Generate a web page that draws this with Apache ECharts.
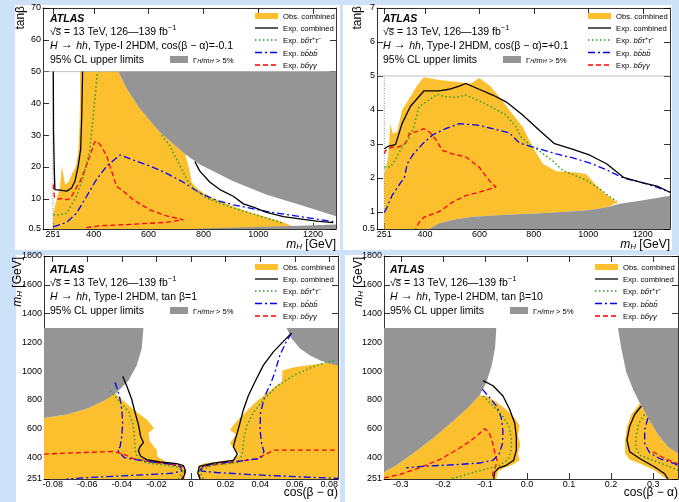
<!DOCTYPE html>
<html><head><meta charset="utf-8">
<script src="https://cdn.jsdelivr.net/npm/echarts@6/dist/echarts.min.js"></script>
<style>
html,body{margin:0;padding:0;width:679px;height:502px;overflow:hidden;background:#cde1f8;}
.p{position:absolute;background:#fff;}
#c{position:absolute;left:0;top:0;width:679px;height:502px;}
</style></head><body>
<div class="p" style="left:15px;top:5px;width:325px;height:245px"></div>
<div class="p" style="left:343px;top:5px;width:329px;height:245px"></div>
<div class="p" style="left:16px;top:255px;width:324px;height:247px"></div>
<div class="p" style="left:345px;top:255px;width:334px;height:247px"></div>
<div id="c"></div>
<script>
const FONT = '"Liberation Sans", Arial, Helvetica, sans-serif';

// ---------- tick labels ----------
const tlXTicks = [251, 400, 600, 800, 1000, 1200];
const tlYTicks = [0.5, 10, 20, 30, 40, 50, 60, 70];
const trXTicks = [251, 400, 600, 800, 1000, 1200];
const trYTicks = [0.5, 1, 2, 3, 4, 5, 6, 7];
const blXTicks = [-0.08, -0.06, -0.04, -0.02, 0, 0.02, 0.04, 0.06, 0.08];
const brXTicks = [-0.3, -0.2, -0.1, 0, 0.1, 0.2, 0.3];
const bYTicks = [251, 400, 600, 800, 1000, 1200, 1400, 1600, 1800];

// ---------- top-left: cos(b-a) = -0.1  (x: m_H [GeV], y: tan b) ----------
const tlObs = [[252,0.5],[252,5.5],[264,9.7],[277,13.9],[283,20.3],[295,14.5],[307,15.2],[319,17.6],[335,20.3],[343,24.5],[347,30.9],[350,41.5],[350,50],[489,50],[520,44.6],[568,38.3],[641,30.9],[733,24],[739,22.4],[751,18.2],[757,15.2],[775,13.4],[800,11.8],[848,9.7],[909,7.6],[970,5.7],[1031,4.2],[1092,2.6],[1128,1.2],[1152,0.5]];
const tlGrey = [[489,50],[520,44.6],[568,38.3],[641,30.9],[733,24],[787,20.8],[909,15.5],[1031,11.3],[1152,8.1],[1284,4.5],[1284,50]];
const tlGreyLow = [[760,0.5],[1284,0.5],[1284,1.9],[1150,1.5],[1000,1.1],[850,0.8]];
const tlExpA = [[252,50],[253,30.9],[256,18.2],[258,12.9],[277,12.7],[301,12.4],[319,13.4],[331,15.5],[343,20.3],[352,25.6],[356,36.2],[359,50]];
const tlExpB = [[769,21.7],[787,18.7],[824,15.2],[860,12.9],[909,10.8],[946,8.4],[982,7.4],[1031,5.7],[1092,4.4],[1152,3.7],[1213,3.0],[1274,2.5]];
const tlTauA = [[252,4.9],[270,4.9],[301,5.5],[337,10.8],[362,17.1],[386,25.6],[404,41.5],[413,50]];
const tlTauB = [[648,30],[678,26.6],[715,20.3],[739,16.1],[763,13.4],[812,10.2],[909,7.1],[1031,3.9],[1092,2.3]];
const tl4b = [[252,1.2],[301,2.6],[337,5.5],[374,10.8],[410,16.1],[447,20.3],[496,23.8],[544,22.2],[605,20.3],[666,18],[727,15.2],[787,11.8],[848,9.5],[909,8.1],[1031,6],[1152,4.4],[1274,2.8]];
const tlYY = [[252,14.5],[256,10.6],[270,9.9],[289,10.2],[301,9.7],[315,10.2],[331,12.7],[350,15.5],[368,19.2],[386,23.5],[402,27.7],[410,28.2],[425,26.8],[447,23.5],[469,17.6],[483,13.9],[508,12.4],[544,9.7],[605,6.5],[666,4.6],[727,3.4],[666,2.6],[544,2.0],[423,1.5],[362,0.8]];

// ---------- top-right: cos(b-a) = +0.1 ----------
const trObs = [[251,0.5],[251,2.12],[265,2.62],[273,3.6],[282,3.31],[298,3.35],[316,4.0],[347,4.39],[372,4.73],[396,4.96],[452,4.88],[513,4.83],[569,4.78],[599,4.94],[636,4.73],[673,4.39],[710,4.0],[759,3.5],[796,2.91],[833,2.42],[882,2.2],[944,2.17],[993,2.12],[1018,1.88],[1055,1.58],[1092,1.36],[1110,1.29],[1067,1.14],[1006,1.06],[944,1.02],[821,0.96],[698,0.92],[575,0.86],[513,0.79],[452,0.67],[415,0.5]];
const trGrey = [[415,0.5],[452,0.67],[513,0.79],[575,0.86],[698,0.92],[821,0.96],[944,1.02],[1006,1.06],[1067,1.14],[1116,1.24],[1190,1.33],[1300,1.48],[1300,0.5]];
const trExp = [[251,2.86],[267,2.94],[292,2.98],[316,3.6],[347,4.11],[396,4.56],[452,4.56],[489,4.61],[526,4.7],[550,4.78],[599,4.61],[649,4.44],[698,4.24],[759,3.85],[821,3.4],[876,3.01],[944,2.84],[1006,2.67],[1067,2.42],[1129,2.02],[1190,1.88],[1252,1.76],[1300,1.58]];
const trTau = [[251,2.32],[273,2.32],[292,2.54],[316,2.91],[341,3.16],[359,3.5],[378,4.09],[405,4.24],[446,4.46],[476,4.39],[513,4.37],[550,4.44],[599,4.27],[649,4.07],[698,3.85],[735,3.5],[753,3.21],[784,2.99],[821,2.79],[870,2.5],[907,2.22],[944,2.1],[993,1.93],[1042,1.68],[1079,1.45],[1104,1.32]];
const tr4b = [[251,0.99],[261,1.14],[279,1.48],[304,1.78],[325,2.02],[335,2.42],[356,2.69],[390,2.99],[427,3.26],[476,3.45],[526,3.6],[599,3.55],[673,3.4],[710,3.33],[747,3.03],[796,2.91],[882,2.71],[944,2.59],[1006,2.44],[1067,2.24],[1129,2.0],[1190,1.88],[1252,1.73],[1300,1.58]];
const trYY = [[251,2.71],[255,2.81],[279,2.91],[304,2.91],[329,3.03],[343,3.31],[372,3.37],[396,3.45],[417,3.35],[442,3.11],[464,2.81],[501,2.71],[550,2.62],[599,2.32],[636,1.93],[661,1.73],[599,1.58],[550,1.48],[501,1.29],[476,1.14],[452,1.01],[427,0.94],[396,0.84],[378,0.69],[366,0.5]];

// ---------- bottom-left: tan b = 1 (x: cos(b-a), y: m_H [GeV]) ----------
const blGreyL = [[-0.085,1300],[-0.0275,1300],[-0.0285,1158],[-0.0314,1040],[-0.0362,934],[-0.0429,852],[-0.0506,793],[-0.0603,739],[-0.0718,699],[-0.085,675]];
const blGreyR = [[0.0553,1300],[0.0581,1228],[0.063,1158],[0.0687,1111],[0.0745,1075],[0.0803,1052],[0.085,1040],[0.085,1300]];
const blObsL = [[-0.085,251],[-0.085,675],[-0.0718,699],[-0.0603,739],[-0.0506,793],[-0.0458,864],[-0.041,816],[-0.0333,734],[-0.0256,664],[-0.0214,605],[-0.0246,569],[-0.0237,511],[-0.0198,452],[-0.0194,405],[-0.0141,369],[-0.0083,353],[-0.0044,334],[-0.0035,299],[-0.004,251]];
const blObsR = [[0.085,1064],[0.0745,1052],[0.0668,1040],[0.0591,1026],[0.0529,1005],[0.0526,922],[0.0504,911],[0.0437,847],[0.037,781],[0.0312,711],[0.0264,652],[0.0225,593],[0.026,558],[0.0225,499],[0.0254,452],[0.0283,424],[0.0245,386],[0.0148,369],[0.0071,358],[0.0042,334],[0.0042,299],[0.0052,251],[0.085,251]];
const blExpL = [[-0.0395,965],[-0.0372,899],[-0.0343,805],[-0.0323,711],[-0.0304,628],[-0.0291,546],[-0.0275,504],[-0.0295,475],[-0.0304,445],[-0.0291,409],[-0.0256,386],[-0.0179,369],[-0.0083,358],[-0.0044,344],[-0.0033,311],[-0.0039,275],[-0.0054,251]];
const blExpR = [[0.0052,251],[0.0039,292],[0.0048,339],[0.0129,362],[0.0245,381],[0.0268,424],[0.0245,475],[0.0254,518],[0.0268,574],[0.0283,640],[0.0302,729],[0.0331,828],[0.037,927],[0.0418,1040],[0.0476,1134],[0.0533,1205],[0.0581,1264]];
const blTauL = [[-0.0468,864],[-0.041,786],[-0.0362,722],[-0.0337,640],[-0.0327,546],[-0.0323,452],[-0.031,393],[-0.0256,362],[-0.0141,346],[-0.0064,329],[-0.0048,299],[-0.0073,251]];
const blTauR = [[0.0071,251],[0.0048,311],[0.0129,346],[0.0283,369],[0.0298,440],[0.0306,534],[0.0325,628],[0.036,711],[0.0418,800],[0.0495,894],[0.0591,969],[0.0687,1021],[0.0784,1064],[0.0841,1075]];
const bl4bL = [[-0.0439,922],[-0.0414,828],[-0.04,734],[-0.0395,640],[-0.04,551],[-0.041,475],[-0.0425,452],[-0.0387,400],[-0.0275,376],[-0.0141,358],[-0.0064,339],[-0.0054,306],[-0.0102,292],[-0.0237,282],[-0.0429,271],[-0.0622,259],[-0.0718,251]];
const bl4bR = [[0.0581,1264],[0.0549,1200],[0.0514,1111],[0.0485,993],[0.046,911],[0.0427,828],[0.0402,711],[0.0399,593],[0.0408,499],[0.0422,440],[0.0399,393],[0.0283,376],[0.0129,358],[0.0052,329],[0.0062,306],[0.0148,296],[0.0341,282],[0.0533,271],[0.0726,261],[0.085,256]];
const blYYL = [[-0.085,424],[-0.0718,431],[-0.0449,442],[-0.0391,424],[-0.0333,393],[-0.0218,367],[-0.0102,351],[-0.0048,334],[-0.0033,299],[-0.0044,251]];
const blYYR = [[0.0052,251],[0.0042,299],[0.0071,339],[0.0245,367],[0.0379,391],[0.0437,424],[0.048,452],[0.0553,452],[0.085,452]];

// ---------- bottom-right: tan b = 10 ----------
const brGreyL = [[-0.34,1300],[-0.0729,1300],[-0.0761,1158],[-0.084,1040],[-0.0967,922],[-0.1125,833],[-0.1403,746],[-0.1759,652],[-0.2235,534],[-0.271,428],[-0.3106,346],[-0.34,299]];
const brGreyR = [[0.2163,1300],[0.2242,1158],[0.2361,993],[0.252,875],[0.2678,781],[0.2876,675],[0.3114,558],[0.3352,475],[0.359,428],[0.359,1300]];
const brObsL = [[-0.34,251],[-0.34,299],[-0.3106,346],[-0.271,428],[-0.2235,534],[-0.1759,652],[-0.1403,746],[-0.1125,833],[-0.0967,828],[-0.0729,786],[-0.0491,734],[-0.0293,675],[-0.0174,621],[-0.0214,558],[-0.0158,487],[-0.0214,428],[-0.0174,381],[-0.0333,351],[-0.0531,329],[-0.0689,306],[-0.0729,251]];
const brObsR = [[0.2678,776],[0.248,699],[0.2377,616],[0.233,522],[0.233,428],[0.2441,386],[0.2718,353],[0.3035,311],[0.3312,251],[0.359,251],[0.359,428],[0.3352,475],[0.3114,558],[0.2876,675]];
const brExpL = [[-0.1046,934],[-0.0808,899],[-0.0571,828],[-0.0412,734],[-0.0293,640],[-0.0254,546],[-0.0254,452],[-0.0317,381],[-0.0491,346],[-0.0666,329],[-0.0769,299],[-0.0792,251]];
const brExpR = [[0.2718,758],[0.2559,699],[0.244,616],[0.2377,522],[0.2441,440],[0.2678,393],[0.3035,334],[0.3273,287],[0.3352,251]];
const brTauL = [[-0.1046,828],[-0.0824,762],[-0.0586,692],[-0.0428,616],[-0.0372,534],[-0.0372,452],[-0.0452,386],[-0.065,346],[-0.0967,320],[-0.1284,296],[-0.1601,268],[-0.1838,251]];
const brTauR = [[0.2797,699],[0.2662,640],[0.2599,558],[0.2583,471],[0.2678,416],[0.2995,381],[0.3312,346],[0.359,311]];
const br4bL = [[-0.1062,875],[-0.0887,816],[-0.0713,753],[-0.061,675],[-0.0571,581],[-0.0586,494],[-0.0666,424],[-0.0808,381],[-0.1125,362],[-0.168,351],[-0.2472,339],[-0.2868,329]];
const br4bR = [[0.2876,675],[0.2797,593],[0.2797,499],[0.2916,433],[0.3154,393],[0.347,362],[0.359,346]];
const brYYL = [[-0.34,259],[-0.3027,282],[-0.2552,329],[-0.2076,386],[-0.168,452],[-0.1363,511],[-0.1165,558],[-0.1006,600],[-0.0903,574],[-0.0824,511],[-0.0769,440],[-0.0713,381],[-0.0745,339],[-0.0808,299],[-0.0824,251]];
const brYYR = [[0.2995,440],[0.3233,400],[0.347,369],[0.359,358]];

// ---------- styles ----------
const C_OBS = '#fcbf2e', C_GREY = '#959595', C_EXP = '#000000', C_TAU = '#22a022', C_4B = '#0000ff', C_YY = '#ff0000';
const DASH_TAU = [1.5, 2.5], DASH_4B = [7, 3, 2, 3], DASH_YY = [5, 3];

const series = [];
function poly(g, pts, color, z) {
  series.push({
    type: 'custom', xAxisIndex: 2*g, yAxisIndex: 2*g, clip: true, silent: true, z: z,
    data: [pts[0]], encode: {x: 0, y: 1},
    renderItem: function (params, api) {
      return {type: 'polygon', shape: {points: pts.map(function (p) { return api.coord(p); })}, style: {fill: color}};
    }
  });
}
function line(g, pts, color, dash, w, z) {
  series.push({
    type: 'line', xAxisIndex: 2*g, yAxisIndex: 2*g, data: pts, showSymbol: false, symbol: 'none',
    clip: true, silent: true, z: z,
    lineStyle: {color: color, width: w, type: dash || 'solid'}
  });
}
function fmtX(v) { return String(v); }

// panel 0: TL
poly(0, tlObs, C_OBS, 2); poly(0, tlGrey, C_GREY, 3); poly(0, tlGreyLow, C_GREY, 3);
line(0, [[251,0.5],[251,50]], '#444', [1,1.5], 0.6, 4);
line(0, [[214.5,50],[1284,50]], '#999', 'solid', 0.6, 4);
line(0, tlYY, C_YY, DASH_YY, 1.3, 5); line(0, tl4b, C_4B, DASH_4B, 1.3, 6);
line(0, tlTauA, C_TAU, DASH_TAU, 1.5, 7); line(0, tlTauB, C_TAU, DASH_TAU, 1.5, 7);
line(0, tlExpA, C_EXP, null, 1.3, 8); line(0, tlExpB, C_EXP, null, 1.3, 8);
// panel 1: TR
poly(1, trObs, C_OBS, 2); poly(1, trGrey, C_GREY, 3);
line(1, [[251,0.5],[251,5]], '#444', [1,1.5], 0.6, 4);
line(1, [[224,5],[1300,5]], '#999', 'solid', 0.6, 4);
line(1, trYY, C_YY, DASH_YY, 1.3, 5); line(1, tr4b, C_4B, DASH_4B, 1.3, 6);
line(1, trTau, C_TAU, DASH_TAU, 1.5, 7); line(1, trExp, C_EXP, null, 1.3, 8);
// panel 2: BL
poly(2, blObsL, C_OBS, 2); poly(2, blObsR, C_OBS, 2); poly(2, blGreyL, C_GREY, 3); poly(2, blGreyR, C_GREY, 3);
line(2, blYYL, C_YY, DASH_YY, 1.3, 5); line(2, blYYR, C_YY, DASH_YY, 1.3, 5);
line(2, bl4bL, C_4B, DASH_4B, 1.3, 6); line(2, bl4bR, C_4B, DASH_4B, 1.3, 6);
line(2, blTauL, C_TAU, DASH_TAU, 1.5, 7); line(2, blTauR, C_TAU, DASH_TAU, 1.5, 7);
line(2, blExpL, C_EXP, null, 1.3, 8); line(2, blExpR, C_EXP, null, 1.3, 8);
// panel 3: BR
poly(3, brObsL, C_OBS, 2); poly(3, brObsR, C_OBS, 2); poly(3, brGreyL, C_GREY, 3); poly(3, brGreyR, C_GREY, 3);
line(3, brYYL, C_YY, DASH_YY, 1.3, 5); line(3, brYYR, C_YY, DASH_YY, 1.3, 5);
line(3, br4bL, C_4B, DASH_4B, 1.3, 6); line(3, br4bR, C_4B, DASH_4B, 1.3, 6);
line(3, brTauL, C_TAU, DASH_TAU, 1.5, 7); line(3, brTauR, C_TAU, DASH_TAU, 1.5, 7);
line(3, brExpL, C_EXP, null, 1.3, 8); line(3, brExpR, C_EXP, null, 1.3, 8);

// ---------- axes ----------
const grids = [
  {left: 43, top: 8, width: 293, height: 221},
  {left: 377, top: 8, width: 293, height: 221},
  {left: 44, top: 256, width: 294, height: 223},
  {left: 384, top: 256, width: 294, height: 223}
];
const xRanges = [[214.5, 1284], [224, 1300], [-0.085, 0.085], [-0.34, 0.359]];
const yRanges = [[0.5, 70], [0.5, 7], [251, 1800], [251, 1800]];
const xTicks = [tlXTicks, trXTicks, blXTicks, brXTicks];
const yTicks = [tlYTicks, trYTicks, bYTicks, bYTicks];
const xFmts = [fmtX, fmtX, function (v) { return Math.abs(v) < 1e-9 ? '0' : v.toFixed(2); }, function (v) { return (Math.abs(v) < 1e-9 ? 0 : v).toFixed(1); }];
const xAxes = [], yAxes = [];
const lineSt = {color: '#000', width: 0.8};
for (let g = 0; g < 4; g++) {
  ['bottom', 'top'].forEach(function (pos) {
    xAxes.push({type: 'value', gridIndex: g, position: pos, min: xRanges[g][0], max: xRanges[g][1],
      axisLine: {show: true, onZero: false, lineStyle: lineSt},
      axisTick: {show: true, inside: true, length: 6, customValues: xTicks[g], lineStyle: lineSt},
      axisLabel: {show: pos === 'bottom', customValues: xTicks[g], formatter: xFmts[g], fontSize: 9, color: '#000', margin: 1, fontFamily: FONT},
      splitLine: {show: false}});
  });
  ['left', 'right'].forEach(function (pos) {
    yAxes.push({type: 'value', gridIndex: g, position: pos, min: yRanges[g][0], max: yRanges[g][1],
      axisLine: {show: true, onZero: false, lineStyle: lineSt},
      axisTick: {show: true, inside: true, length: 6, customValues: yTicks[g], lineStyle: lineSt},
      axisLabel: {show: pos === 'left', customValues: yTicks[g], formatter: function (v) { return String(v); }, fontSize: 9, color: '#000', margin: 2, fontFamily: FONT},
      splitLine: {show: false}});
  });
}

// ---------- texts & legends ----------
const RM = {
  n: {fontSize: 10.5, fontFamily: FONT, lineHeight: 14, verticalAlign: 'bottom'},
  i: {fontSize: 10.5, fontFamily: FONT, fontStyle: 'italic', lineHeight: 14, verticalAlign: 'bottom'},
  sup: {fontSize: 7.5, fontFamily: FONT, lineHeight: 8, verticalAlign: 'top'},
  a: {fontSize: 10.5, fontFamily: FONT, fontStyle: 'italic', fontWeight: 'bold', lineHeight: 14, verticalAlign: 'bottom'}
};
const RL = {
  n: {fontSize: 7.7, fontFamily: FONT, lineHeight: 10, verticalAlign: 'bottom'},
  i: {fontSize: 7.7, fontFamily: FONT, fontStyle: 'italic', lineHeight: 10, verticalAlign: 'bottom'},
  sup: {fontSize: 5.5, fontFamily: FONT, lineHeight: 6, verticalAlign: 'top'},
  sub: {fontSize: 5.5, fontFamily: FONT, fontStyle: 'italic', lineHeight: 6, verticalAlign: 'bottom'}
};
const RA = {
  n: {fontSize: 12, fontFamily: FONT, lineHeight: 14, verticalAlign: 'bottom'},
  i: {fontSize: 12, fontFamily: FONT, fontStyle: 'italic', lineHeight: 14, verticalAlign: 'bottom'},
  sub: {fontSize: 8, fontFamily: FONT, fontStyle: 'italic', lineHeight: 7, verticalAlign: 'bottom'}
};
function txt(x, y, text, rich, align, rot) {
  const e = {type: 'text', x: x, y: y, style: {text: text, rich: rich, fill: '#000', align: align || 'left', verticalAlign: 'middle', textAlign: align || 'left', textVerticalAlign: 'middle'}, z: 100};
  if (rot) e.rotation = rot;
  return e;
}
const graphics = [];
const panelInfo = [
  {ox: 0, oy: 0, l3: '{i|H} → {i|hh}{n|, Type-I 2HDM, cos(β − α)=-0.1}'},
  {ox: 333, oy: 0, l3: '{i|H} → {i|hh}{n|, Type-I 2HDM, cos(β − α)=+0.1}'},
  {ox: 0, oy: 251, l3: '{i|H} → {i|hh}{n|, Type-I 2HDM, tan β=1}'},
  {ox: 340, oy: 251, l3: '{i|H} → {i|hh}{n|, Type-I 2HDM, tan β=10}'}
];
const legendNames = ['{n|Obs. combined}', '{n|Exp. combined}', '{n|Exp. }{i|bb̄τ}{sup|+}{i|τ}{sup|−}', '{n|Exp. }{i|bb̄bb̄}', '{n|Exp. }{i|bb̄γγ}'];
const legendRows = [16, 28, 40, 52.5, 65];
panelInfo.forEach(function (p) {
  const ox = p.ox, oy = p.oy;
  graphics.push(txt(50 + ox, 17.5 + oy, '{a|ATLAS}', RM));
  graphics.push(txt(50 + ox, 31 + oy, '{n|√s̅ = 13 TeV, 126—139 fb}{sup|−1}', RM));
  graphics.push(txt(50 + ox, 45 + oy, p.l3, RM));
  graphics.push(txt(50 + ox, 58.5 + oy, '{n|95% CL upper limits}', RM));
  graphics.push({type: 'rect', shape: {x: 170 + ox, y: 56 + oy, width: 18, height: 7}, style: {fill: C_GREY}, z: 100});
  graphics.push(txt(193 + ox, 59.5 + oy, '{n|Γ}{sub|H}{n|/m}{sub|H}{n| > 5%}', RL));
  const sx1 = 255 + ox, sx2 = 278 + ox;
  graphics.push({type: 'rect', shape: {x: sx1, y: legendRows[0] - 3 + oy, width: 23, height: 6}, style: {fill: C_OBS}, z: 100});
  const lst = [[C_EXP, null, 1.3], [C_TAU, DASH_TAU, 1.5], [C_4B, DASH_4B, 1.3], [C_YY, DASH_YY, 1.3]];
  lst.forEach(function (s, k) {
    const y = legendRows[k + 1] + oy;
    graphics.push({type: 'line', shape: {x1: sx1, y1: y, x2: sx2, y2: y}, style: {stroke: s[0], lineWidth: s[2], lineDash: s[1]}, z: 100});
  });
  legendNames.forEach(function (t, k) { graphics.push(txt(283 + ox, legendRows[k] + oy, t, RL)); });
});
// axis titles
graphics.push(txt(20, 6, '{n|tanβ}', RA, 'right', Math.PI / 2));
graphics.push(txt(357, 6, '{n|tanβ}', RA, 'right', Math.PI / 2));
graphics.push(txt(336, 244, '{i|m}{sub|H}{n| [GeV]}', RA, 'right'));
graphics.push(txt(670, 244, '{i|m}{sub|H}{n| [GeV]}', RA, 'right'));
graphics.push(txt(17, 257, '{i|m}{sub|H}{n| [GeV]}', RA, 'right', Math.PI / 2));
graphics.push(txt(358, 257, '{i|m}{sub|H}{n| [GeV]}', RA, 'right', Math.PI / 2));
graphics.push(txt(338, 492, '{n|cos(β − α)}', RA, 'right'));
graphics.push(txt(678, 492, '{n|cos(β − α)}', RA, 'right'));

const chart = echarts.init(document.getElementById('c'), null, {renderer: 'canvas'});
chart.setOption({
  animation: false,
  backgroundColor: 'transparent',
  grid: grids,
  xAxis: xAxes,
  yAxis: yAxes,
  series: series,
  graphic: graphics
});
</script>
</body></html>
